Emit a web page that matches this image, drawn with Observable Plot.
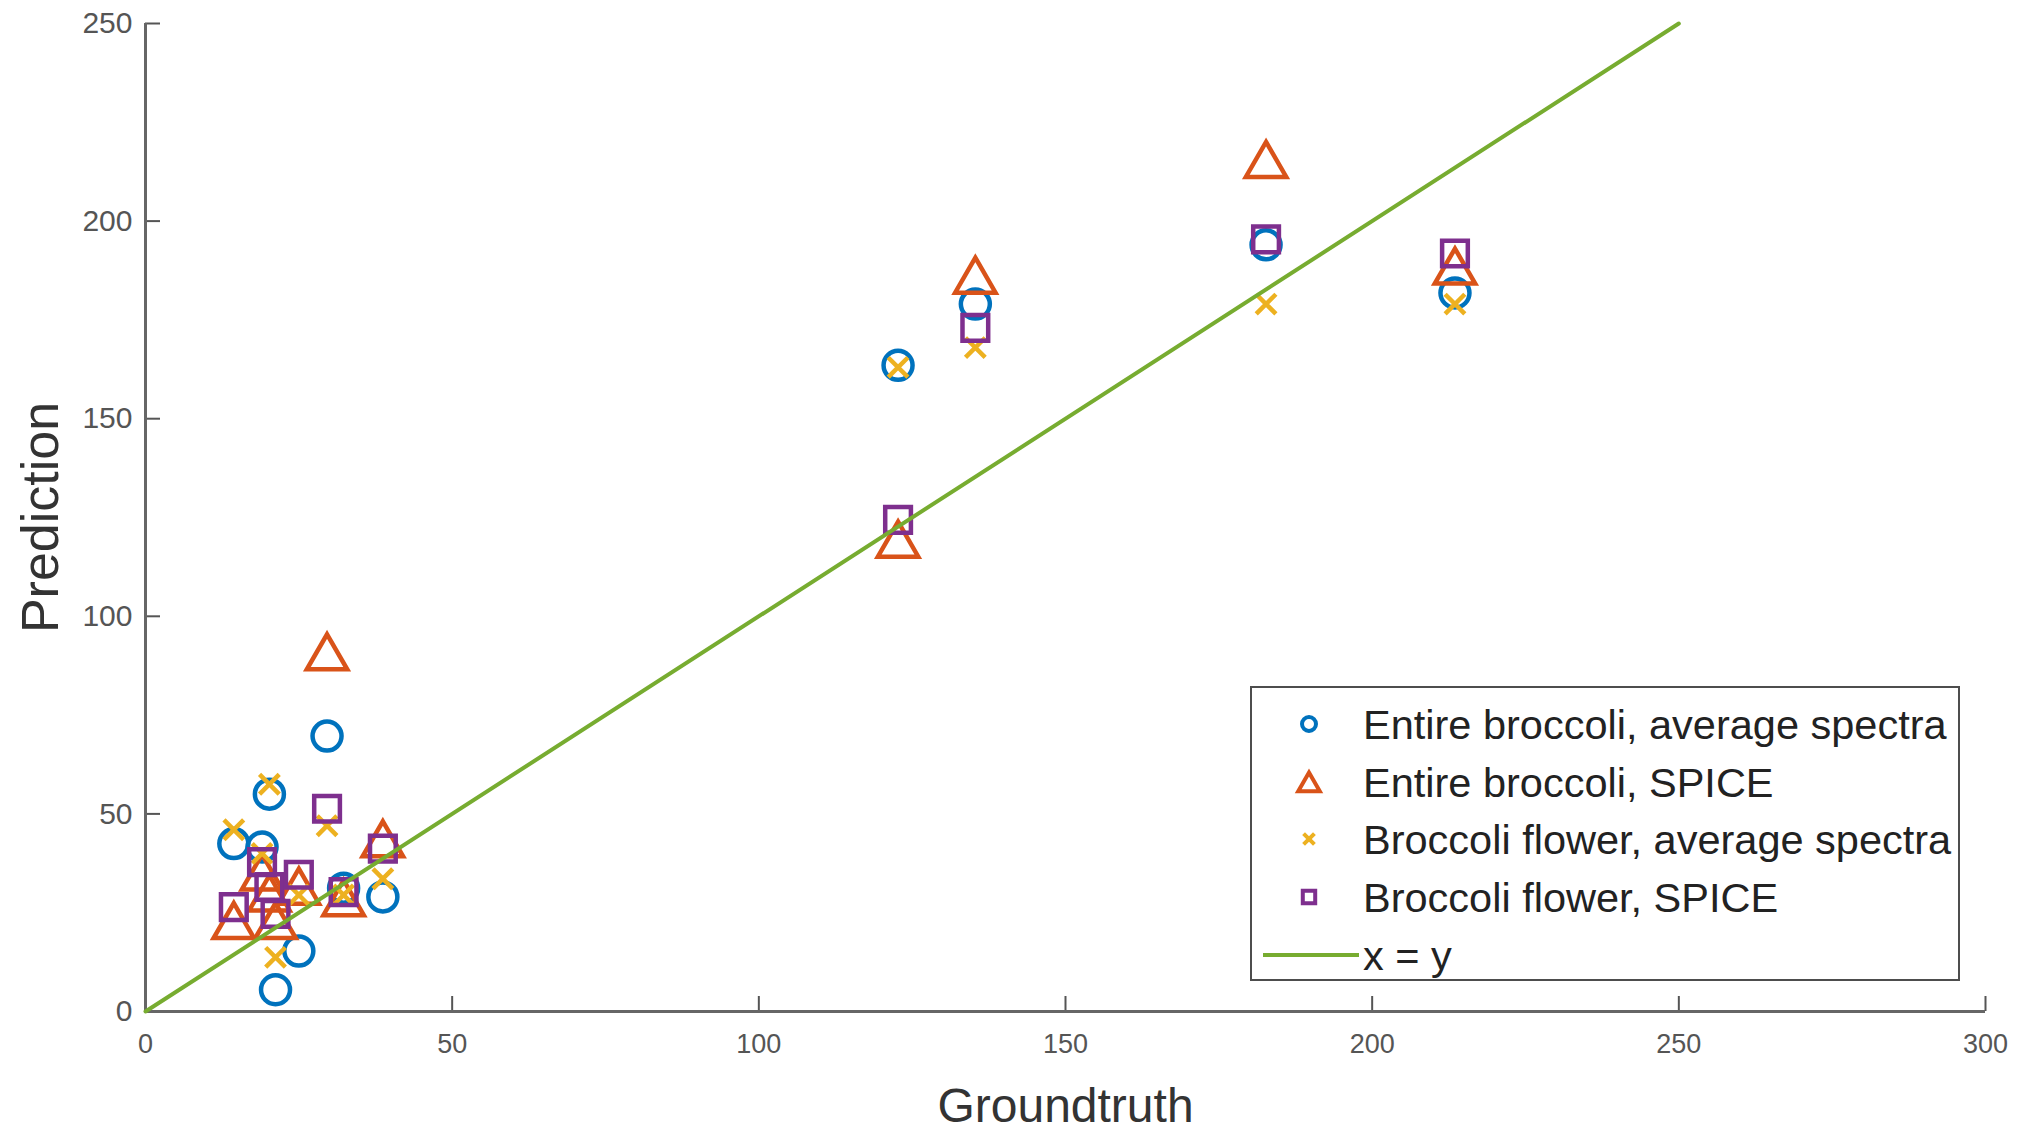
<!DOCTYPE html>
<html><head><meta charset="utf-8">
<script src="https://cdn.jsdelivr.net/npm/d3@7"></script>
<script src="https://cdn.jsdelivr.net/npm/@observablehq/plot@0.6"></script>
<style>
body{margin:0;background:#fff;}
#wrap{position:relative;width:2017px;height:1133px;font-family:"Liberation Sans",Arial,sans-serif;}
#legend{position:absolute;left:1250px;top:686px;width:706px;height:291px;border:2.5px solid #4d4d4d;background:#fff;box-sizing:content-box;}
</style></head><body><div id="wrap"></div>
<script>
// Data
const groundtruth = [14.4, 19.0, 20.2, 21.2, 25.0, 29.6, 32.3, 38.7, 122.7, 135.3, 182.7, 213.5];
const entireAvg   = [42.5, 41.6, 55.0, 5.5, 15.3, 69.7, 31.2, 29.0, 163.5, 179.0, 194.0, 181.8];
const entireSpice = [23.0, 35.3, 30.0, 23.0, 31.7, 91.0, 28.8, 43.7, 119.5, 186.3, 215.6, 188.6];
const flowerAvg   = [46.0, 40.0, 57.5, 13.7, 29.5, 47.0, 29.5, 33.6, 163.0, 168.0, 179.0, 179.0];
const flowerSpice = [26.4, 37.8, 31.5, 24.7, 34.6, 51.3, 30.2, 41.2, 124.4, 173.0, 195.4, 191.8];
const identityX = [0, 250];
const xTicks = [0, 50, 100, 150, 200, 250, 300];
const yTicks = [0, 50, 100, 150, 200, 250];
const seriesNames = ["Entire broccoli, average spectra", "Entire broccoli, SPICE",
                     "Broccoli flower, average spectra", "Broccoli flower, SPICE"];
const lineName = "x = y";
const colors = ["#0072BD", "#D95319", "#EDB120", "#7E2F8E"];
const lineColor = "#77AC30";

const rows = (vals, s) => groundtruth.map((g, i) => ({groundtruth: g, prediction: vals[i], series: s}));
const lineData = identityX.map(v => ({x: v, y: v}));

const W = 2017, H = 1133, mL = 145, mR = 32, mT = 23, mB = 122;
const frameW = W - mL - mR, frameH = H - mT - mB, tick = 15;
const font = '"Liberation Sans", Arial, sans-serif';

const chart = Plot.plot({
  width: W, height: H, marginLeft: mL, marginRight: mR, marginTop: mT, marginBottom: mB,
  style: {fontFamily: font, background: "white", overflow: "visible"},
  x: {domain: [0, 300]},
  y: {domain: [0, 250]},
  marks: [
    Plot.axisX(xTicks, {tickSize: 0, tickPadding: 22, fontSize: 27, fill: "#555", label: null}),
    Plot.axisY(yTicks, {tickSize: 0, tickPadding: 13, fontSize: 30, fill: "#555", label: null}),
    Plot.ruleX(xTicks, {stroke: "#555", strokeWidth: 2, insetTop: frameH - tick}),
    Plot.ruleY(yTicks, {stroke: "#555", strokeWidth: 2, insetRight: frameW - tick}),
    Plot.ruleY([0], {stroke: "#666", strokeWidth: 3}),
    Plot.ruleX([0], {stroke: "#666", strokeWidth: 3}),
    Plot.dot(rows(entireAvg, seriesNames[0]), {x: "groundtruth", y: "prediction", symbol: d3.symbolCircle, r: 14.5, stroke: colors[0], strokeWidth: 4.5, fill: "none"}),
    Plot.dot(rows(entireSpice, seriesNames[1]), {x: "groundtruth", y: "prediction", symbol: d3.symbolTriangle, r: 15, dy: 5.8, stroke: colors[1], strokeWidth: 4.5, fill: "none", strokeLinejoin: "miter"}),
    Plot.dot(rows(flowerAvg, seriesNames[2]), {x: "groundtruth", y: "prediction", symbol: d3.symbolTimes, r: 9, stroke: colors[2], strokeWidth: 4.5, fill: "none"}),
    Plot.dot(rows(flowerSpice, seriesNames[3]), {x: "groundtruth", y: "prediction", symbol: d3.symbolSquare, r: 14.5, stroke: colors[3], strokeWidth: 4.5, fill: "none", strokeLinejoin: "miter"}),
    Plot.line(lineData, {x: "x", y: "y", stroke: lineColor, strokeWidth: 4}),
    Plot.text(["Groundtruth"], {frameAnchor: "bottom", dy: 110, lineAnchor: "bottom", textAnchor: "middle", fontSize: 48, fill: "#333"}),
    Plot.text(["Prediction"], {frameAnchor: "left", dx: -104, rotate: -90, lineAnchor: "middle", textAnchor: "middle", fontSize: 52, fill: "#333"})
  ]
});
const wrap = document.getElementById("wrap");
wrap.appendChild(chart);

// Legend (inside the axes, MATLAB-style box)
const legend = document.createElement("div");
legend.id = "legend";
wrap.appendChild(legend);
const ls = d3.select(legend).append("svg").attr("width", 706).attr("height", 291)
  .style("position", "absolute").style("left", 0).style("top", 0);
const syms = [d3.symbolCircle, d3.symbolTriangle, d3.symbolTimes, d3.symbolSquare];
const symSizes = [Math.PI * 7 * 7, Math.PI * 8 * 8, Math.PI * 5 * 5, Math.PI * 7 * 7];
const symDy = [0, 3, 0, 0];
const rowY = [36, 94, 151, 209, 267];
seriesNames.forEach((name, i) => {
  ls.append("path").attr("d", d3.symbol(syms[i], symSizes[i])())
    .attr("transform", `translate(57,${rowY[i] + symDy[i]})`)
    .attr("fill", "none").attr("stroke", colors[i]).attr("stroke-width", 4).attr("stroke-linejoin", "miter");
  ls.append("text").attr("x", 111).attr("y", rowY[i]).attr("dy", "0.35em")
    .attr("font-size", 41.5).attr("font-family", font).attr("fill", "#222").text(name);
});
ls.append("line").attr("x1", 11).attr("x2", 107).attr("y1", rowY[4]).attr("y2", rowY[4])
  .attr("stroke", lineColor).attr("stroke-width", 4);
ls.append("text").attr("x", 111).attr("y", rowY[4]).attr("dy", "0.35em")
  .attr("font-size", 41.5).attr("font-family", font).attr("fill", "#222").text(lineName);
</script>
</body></html>
